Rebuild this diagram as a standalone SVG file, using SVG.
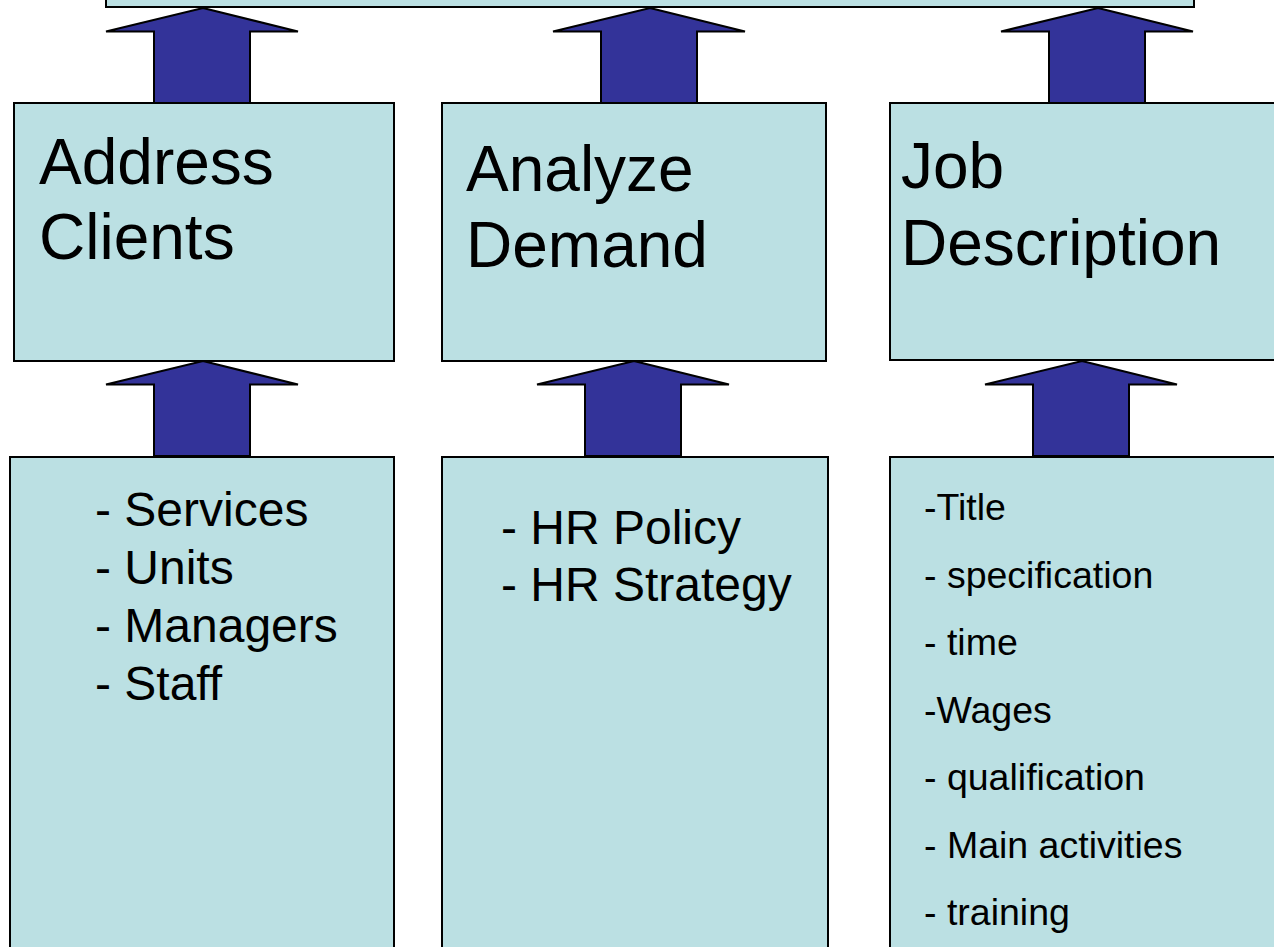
<svg xmlns="http://www.w3.org/2000/svg" width="1274" height="947" viewBox="0 0 1274 947">
<style>
.box{fill:#BBE0E3;stroke:#000;stroke-width:2}
.arr{fill:#333399;stroke:#000;stroke-width:2;stroke-linejoin:miter}
.t{font-family:"Liberation Sans",Arial,sans-serif;fill:#000}
.h{font-size:64px}
.l{font-size:48px}
.s{font-size:37.5px}
</style>
<defs>
<path id="uparrow" class="arr" d="M0,0 L95,23.5 L47,23.5 L47,95 L-49,95 L-49,23.5 L-97,23.5 Z"/>
</defs>
<rect width="1274" height="947" fill="#fff"/>
<g id="top-box"><rect class="box" x="106" y="-20" width="1088" height="27"/></g>
<g id="connectors">
<use href="#uparrow" x="203" y="8"/>
<use href="#uparrow" x="650" y="8"/>
<use href="#uparrow" x="1098" y="8"/>
<use href="#uparrow" x="203" y="361"/>
<use href="#uparrow" x="634" y="361"/>
<use href="#uparrow" x="1082" y="361"/>
</g>
<g id="address-clients">
<rect class="box" x="14" y="103" width="380" height="258"/>
<text class="t h" x="39" y="184">Address</text>
<text class="t h" x="39" y="259">Clients</text>
</g>
<g id="analyze-demand">
<rect class="box" x="442" y="103" width="384" height="258"/>
<text class="t h" x="466" y="191">Analyze</text>
<text class="t h" x="466" y="267">Demand</text>
</g>
<g id="job-description">
<rect class="box" x="890" y="103" width="400" height="257"/>
<text class="t h" x="901" y="188">Job</text>
<text class="t h" x="901" y="265">Description</text>
</g>
<g id="clients-list">
<rect class="box" x="10" y="457" width="384" height="510"/>
<text class="t l" x="95" y="526">- Services</text>
<text class="t l" x="95" y="584">- Units</text>
<text class="t l" x="95" y="642">- Managers</text>
<text class="t l" x="95" y="700">- Staff</text>
</g>
<g id="hr-list">
<rect class="box" x="442" y="457" width="386" height="510"/>
<text class="t l" x="501" y="544">- HR Policy</text>
<text class="t l" x="501" y="601">- HR Strategy</text>
</g>
<g id="job-list">
<rect class="box" x="890" y="457" width="400" height="510"/>
<text class="t s" x="924" y="520">-Title</text>
<text class="t s" x="924" y="588">- specification</text>
<text class="t s" x="924" y="655">- time</text>
<text class="t s" x="924" y="723">-Wages</text>
<text class="t s" x="924" y="790">- qualification</text>
<text class="t s" x="924" y="858">- Main activities</text>
<text class="t s" x="924" y="925">- training</text>
</g>
</svg>
